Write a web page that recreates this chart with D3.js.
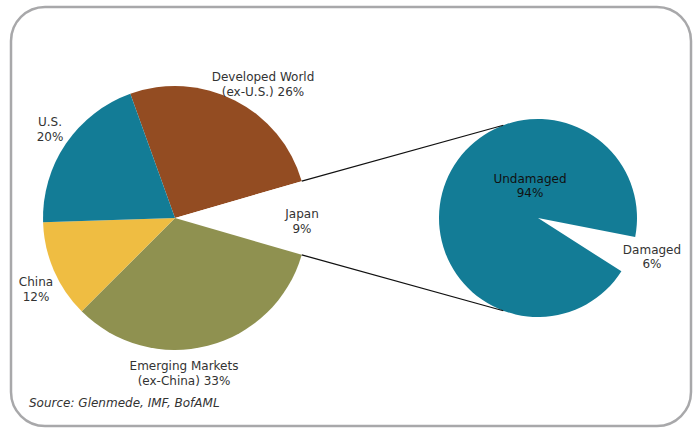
<!DOCTYPE html>
<html>
<head>
<meta charset="utf-8">
<script src="https://cdn.jsdelivr.net/npm/d3@7"></script>
<style>
  body { margin: 0; background: #fff; }
  svg text { font-family: "Century Gothic", "DejaVu Sans", sans-serif; fill: #333; }
</style>
</head>
<body>
<script>
//main pie data, clockwise from the top
var regions = ["Developed World", "Japan", "Emerging Markets", "China", "U.S."];
var shares = [26, 9, 33, 12, 20];
var regionLabels = [["Developed World", "(ex-U.S.) 26%"], ["Japan", "9%"],
    ["Emerging Markets", "(ex-China) 33%"], ["China", "12%"], ["U.S.", "20%"]];

//japan breakdown
var japanParts = ["Damaged", "Undamaged"];
var japanShares = [6, 94];
var japanLabels = [["Damaged", "6%"], ["Undamaged", "94%"]];

var width = 699, height = 428;
var rad = Math.PI / 180;

var svg = d3.select("body").append("svg")
    .attr("width", width)
    .attr("height", height);

//rounded frame
svg.append("rect")
    .attr("x", 11).attr("y", 7)
    .attr("width", 680).attr("height", 419)
    .attr("rx", 34).attr("ry", 34)
    .attr("fill", "none")
    .attr("stroke", "#a8a8aa")
    .attr("stroke-width", 2.5);

var colors = d3.scaleOrdinal()
    .domain(regions)
    .range(["#934c22", "#ffffff", "#8f9150", "#efbd42", "#137c96"]);

//main pie, japan wedge centred on the right side
var cx1 = 175, cy1 = 218, r1 = 132;
var japanHalf = shares[1] / 100 * 180;
var start1 = (90 - japanHalf - shares[0] / 100 * 360) * rad;
var pie1 = d3.pie().sort(null).value(function(d){ return d; })
    .startAngle(start1).endAngle(start1 + 2 * Math.PI);
var arc1 = d3.arc().innerRadius(0).outerRadius(r1);
var slices1 = pie1(shares);

var g1 = svg.append("g").attr("transform", "translate(" + cx1 + "," + cy1 + ")");
g1.selectAll("path")
    .data(slices1)
    .enter()
    .append("path")
    .attr("d", arc1)
    .attr("fill", function(d, i){ return colors(regions[i]); });

//second pie (Japan)
var cx2 = 538, cy2 = 218, r2 = 99;
var start2 = 101 * rad;
var pie2 = d3.pie().sort(null).value(function(d){ return d; })
    .startAngle(start2).endAngle(start2 + 2 * Math.PI);
var arc2 = d3.arc().innerRadius(0).outerRadius(r2);

var g2 = svg.append("g").attr("transform", "translate(" + cx2 + "," + cy2 + ")");
g2.selectAll("path")
    .data(pie2(japanShares))
    .enter()
    .append("path")
    .attr("d", arc2)
    .attr("fill", function(d, i){ return i == 0 ? "#ffffff" : "#137c96"; });

//connector lines from the japan wedge to the second pie
function pt(cx, cy, r, a){
    return [cx + r * Math.sin(a), cy - r * Math.cos(a)];
}
var jap = slices1[1];
var links = [
    [pt(cx1, cy1, r1, jap.startAngle), pt(cx2, cy2, r2, -20.5 * rad)],
    [pt(cx1, cy1, r1, jap.endAngle), pt(cx2, cy2, r2, -159.5 * rad)]
];
svg.selectAll(".link")
    .data(links)
    .enter()
    .append("line")
    .attr("class", "link")
    .attr("x1", function(d){ return d[0][0]; })
    .attr("y1", function(d){ return d[0][1]; })
    .attr("x2", function(d){ return d[1][0]; })
    .attr("y2", function(d){ return d[1][1]; })
    .attr("stroke", "#111")
    .attr("stroke-width", 1.2);

//labels
var labelPos = [[263, 81], [302, 218], [184, 370], [36, 286], [50, 126]];
var lab1 = svg.selectAll(".lab1")
    .data(regionLabels)
    .enter()
    .append("text")
    .attr("class", "lab1")
    .attr("text-anchor", "middle")
    .attr("font-size", "12px")
    .attr("x", function(d, i){ return labelPos[i][0]; })
    .attr("y", function(d, i){ return labelPos[i][1]; });
lab1.selectAll("tspan")
    .data(function(d){ return d; })
    .enter()
    .append("tspan")
    .attr("x", function(){ return this.parentNode.getAttribute("x"); })
    .attr("dy", function(d, j){ return j == 0 ? 0 : 15; })
    .text(function(d){ return d; });

var labelPos2 = [[652, 254], [530, 183]];
var lab2 = svg.selectAll(".lab2")
    .data(japanLabels)
    .enter()
    .append("text")
    .attr("class", "lab2")
    .attr("text-anchor", "middle")
    .attr("font-size", "12px")
    .style("fill", function(d, i){ return i == 1 ? "#111" : "#333"; })
    .attr("x", function(d, i){ return labelPos2[i][0]; })
    .attr("y", function(d, i){ return labelPos2[i][1]; });
lab2.selectAll("tspan")
    .data(function(d){ return d; })
    .enter()
    .append("tspan")
    .attr("x", function(){ return this.parentNode.getAttribute("x"); })
    .attr("dy", function(d, j){ return j == 0 ? 0 : 14; })
    .text(function(d){ return d; });

//source note
svg.append("text")
    .attr("x", 29).attr("y", 407)
    .attr("font-size", "12px")
    .attr("font-style", "italic")
    .text("Source: Glenmede, IMF, BofAML");
</script>
</body>
</html>
